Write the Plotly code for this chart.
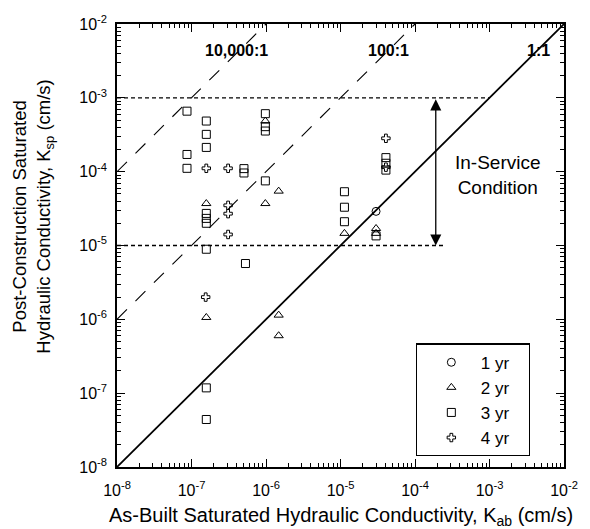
import numpy as np
import plotly.graph_objects as go

# As-built (x) and post-construction (y) saturated hydraulic conductivity, cm/s
yr1_kab = [3.0e-5]
yr1_ksp = [2.9e-5]

yr2_kab = [1.58e-7, 9.8e-7, 9.8e-7, 1.48e-6, 1.58e-7, 1.48e-6, 1.48e-6, 1.13e-5, 3.0e-5, 3.0e-5]
yr2_ksp = [3.7e-5, 3.7e-5, 4.85e-4, 5.45e-5, 1.06e-6, 1.14e-6, 6.0e-7, 1.46e-5, 1.7e-5, 1.46e-5]

yr3_kab = [8.7e-8, 8.7e-8, 8.7e-8, 1.58e-7, 1.58e-7, 1.58e-7, 1.58e-7, 1.58e-7, 1.58e-7,
           1.58e-7, 1.58e-7, 1.58e-7, 5.06e-7, 5.06e-7, 5.3e-7, 9.8e-7, 9.8e-7, 9.8e-7,
           9.8e-7, 1.13e-5, 1.13e-5, 1.13e-5, 4.07e-5, 4.07e-5, 4.07e-5, 3.0e-5]
yr3_ksp = [6.6e-4, 1.71e-4, 1.11e-4, 4.85e-4, 3.2e-4, 2.13e-4, 2.72e-5, 2.33e-5, 2.0e-5,
           8.9e-6, 1.18e-7, 4.4e-8, 1.1e-4, 9.6e-5, 5.7e-6, 6.1e-4, 4.07e-4, 3.55e-4,
           7.5e-5, 5.35e-5, 3.3e-5, 2.1e-5, 1.55e-4, 1.3e-4, 1.05e-4, 1.35e-5]

yr4_kab = [1.58e-7, 3.1e-7, 3.1e-7, 3.1e-7, 3.1e-7, 1.55e-7, 4.07e-5, 4.07e-5]
yr4_ksp = [1.11e-4, 1.11e-4, 3.5e-5, 2.7e-5, 1.41e-5, 2.0e-6, 2.83e-4, 1.15e-4]

# Ratio reference lines K_sp / K_ab
ratios = [1, 100, 10000]
ratio_labels = ["1:1", "100:1", "10,000:1"]
ratio_label_x = [4.5e-3, 4.4e-5, 4.0e-7]

# In-service condition band
band_low, band_high = 1e-5, 1e-3
band_arrow_x = 1.9e-4
band_low_end = 2.6e-4

axis_min, axis_max = 1e-8, 1e-2
decades = list(range(-8, -1))
tick_vals = [10.0 ** e for e in decades]
tick_text = [f"10<sup>{e}</sup>" for e in decades]
minor_vals = [m * 10.0 ** e for e in decades[:-1] for m in range(2, 10)]

FONT = "Liberation Sans, Arial, sans-serif"
NB = "\u00a0"

fig = go.Figure()

# ratio lines
for r in ratios:
    xs = [axis_min, axis_max / r]
    ys = [x * r for x in xs]
    fig.add_trace(go.Scatter(
        x=xs, y=ys, mode="lines", showlegend=False, hoverinfo="skip",
        line=dict(color="black", width=1.8 if r == 1 else 1.1,
                  dash="solid" if r == 1 else "14px,12px")))

# in-service bounds (upper bound stops at the 1:1 line)
fig.add_trace(go.Scatter(x=[axis_min, band_high], y=[band_high, band_high], mode="lines",
                         showlegend=False, hoverinfo="skip",
                         line=dict(color="black", width=1.3, dash="4px,3px")))
fig.add_trace(go.Scatter(x=[axis_min, band_low_end], y=[band_low, band_low], mode="lines",
                         showlegend=False, hoverinfo="skip",
                         line=dict(color="black", width=1.3, dash="4px,3px")))

series = [
    ("1 yr", yr1_kab, yr1_ksp, "circle-open", 8),
    ("2 yr", yr2_kab, yr2_ksp, "triangle-up-open", 8),
    ("3 yr", yr3_kab, yr3_ksp, "square-open", 8),
    ("4 yr", yr4_kab, yr4_ksp, "cross-open", 7),
]
for name, xs, ys, sym, sz in series:
    fig.add_trace(go.Scatter(x=xs, y=ys, mode="markers", name=NB * 2 + name + NB * 3,
                             marker=dict(color="black", size=sz, symbol=sym,
                                         line=dict(color="black", width=1))))

# double-headed arrow spanning the in-service band (log coordinates for annotations)
fig.add_annotation(x=np.log10(band_arrow_x), y=np.log10(band_low),
                   ax=np.log10(band_arrow_x), ay=np.log10(band_high),
                   xref="x", yref="y", axref="x", ayref="y", text="",
                   showarrow=True, arrowhead=2, startarrowhead=2, arrowside="end+start",
                   arrowsize=1.7, startarrowsize=1.7, arrowwidth=1.3, arrowcolor="black",
                   standoff=0, startstandoff=0)

fig.add_annotation(x=np.log10(1.3e-3), y=-4.05, xref="x", yref="y",
                   text="In-Service<br>Condition", showarrow=False,
                   font=dict(family=FONT, size=19, color="black"), align="center")

for lbl, lx in zip(ratio_labels, ratio_label_x):
    fig.add_annotation(x=np.log10(lx), y=-2.355, xref="x", yref="y",
                       text=f"<b>{lbl}</b>", showarrow=False,
                       font=dict(family=FONT, size=16, color="black"))

# axis titles
fig.add_annotation(x=0.5, y=-0.111, xref="paper", yref="paper",
                   xanchor="center", yanchor="middle", showarrow=False,
                   text="As-Built Saturated Hydraulic Conductivity, K<sub>ab</sub> (cm/s)",
                   font=dict(family=FONT, size=20, color="black"))
fig.add_annotation(x=-0.188, y=0.565, xref="paper", yref="paper",
                   xanchor="center", yanchor="middle", showarrow=False, textangle=-90,
                   text="Post-Construction Saturated<br>Hydraulic Conductivity, K<sub>sp</sub> (cm/s)",
                   font=dict(family=FONT, size=18.5, color="black"))

axis_common = dict(
    type="log", tickmode="array", tickvals=tick_vals, ticktext=tick_text,
    ticks="inside", ticklen=8, tickwidth=1, tickcolor="black",
    minor=dict(tickmode="array", tickvals=minor_vals, ticks="inside", ticklen=4,
               tickwidth=1, tickcolor="black", showgrid=False),
    showline=True, linecolor="black", linewidth=1.5, mirror="allticks",
    showgrid=False, zeroline=False,
    tickfont=dict(family=FONT, size=16, color="black"),
    range=[np.log10(axis_min), np.log10(axis_max)],
)

fig.update_xaxes(**axis_common, ticklabelstandoff=8)
fig.update_yaxes(**axis_common, ticklabelstandoff=5)

fig.update_layout(
    width=590, height=529,
    margin=dict(l=117, r=26, t=24, b=62),
    paper_bgcolor="white", plot_bgcolor="white",
    font=dict(family=FONT, color="black"),
    legend=dict(x=0.669, y=0.279, xanchor="left", yanchor="top",
                bordercolor="black", borderwidth=1.3, bgcolor="white",
                font=dict(family=FONT, size=17, color="black"),
                indentation=14, itemwidth=30, tracegroupgap=0),
)

fig.write_html("out.html")
